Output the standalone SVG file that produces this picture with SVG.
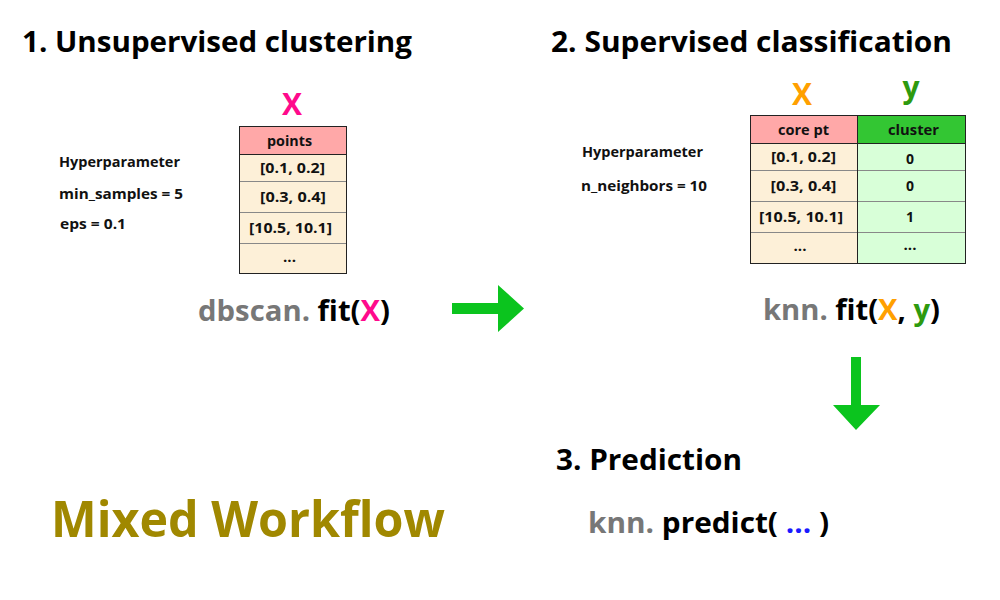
<svg xmlns="http://www.w3.org/2000/svg" width="1000" height="600" viewBox="0 0 1000 600">
<style>
text{font-family:"Open Sans","Noto Sans","Liberation Sans",sans-serif;font-weight:bold;}
.title{font-size:29px;fill:#000;}
.hp{font-size:14px;fill:#111;}
.cell{font-size:14px;fill:#111;text-anchor:middle;}
.code{font-size:29px;}
.gray{fill:#777;}
.blk{fill:#000;}
.grid{stroke:#222;stroke-width:1;}
.sep{stroke:#888;stroke-width:1;}
.arrow{fill:#0bc41e;}
</style>
<rect width="1000" height="600" fill="#fff"/>

<g id="title1"><text class="title" x="22" y="52" textLength="390" lengthAdjust="spacingAndGlyphs">1. Unsupervised clustering</text></g>
<g id="title2"><text class="title" x="551" y="52" textLength="401" lengthAdjust="spacingAndGlyphs">2. Supervised classification</text></g>
<g id="title3"><text class="title" x="556" y="470" textLength="186" lengthAdjust="spacingAndGlyphs">3. Prediction</text></g>
<g id="mixed"><text x="51" y="537" style="font-size:51px;fill:#a08800" textLength="394" lengthAdjust="spacingAndGlyphs">Mixed Workflow</text></g>

<g id="hyper1">
<text class="hp" x="59" y="167" textLength="121" lengthAdjust="spacingAndGlyphs">Hyperparameter</text>
<text class="hp" x="59" y="199" textLength="124" lengthAdjust="spacingAndGlyphs">min_samples = 5</text>
<text class="hp" x="60" y="229" textLength="66" lengthAdjust="spacingAndGlyphs">eps = 0.1</text>
</g>

<g id="table1">
<text x="292" y="115" style="font-size:30px;fill:#ff0a8c" text-anchor="middle">X</text>
<rect x="239.5" y="126.5" width="107" height="28" fill="#ffa8a8"/>
<rect x="239.5" y="154.5" width="107" height="119" fill="#fdf0d8"/>
<line class="sep" x1="239.5" y1="181.5" x2="346.5" y2="181.5"/>
<line class="sep" x1="239.5" y1="212.5" x2="346.5" y2="212.5"/>
<line class="sep" x1="239.5" y1="243.5" x2="346.5" y2="243.5"/>
<line class="grid" x1="239.5" y1="154.5" x2="346.5" y2="154.5"/>
<rect x="239.5" y="126.5" width="107" height="147" fill="none" class="grid"/>
<text class="cell" x="289.5" y="146" textLength="45" lengthAdjust="spacingAndGlyphs">points</text>
<text class="cell" x="292.5" y="173" textLength="65" lengthAdjust="spacingAndGlyphs">[0.1, 0.2]</text>
<text class="cell" x="293" y="202" textLength="66" lengthAdjust="spacingAndGlyphs">[0.3, 0.4]</text>
<text class="cell" x="290.5" y="233" textLength="83" lengthAdjust="spacingAndGlyphs">[10.5, 10.1]</text>
<text class="cell" x="289.5" y="262" textLength="13" lengthAdjust="spacingAndGlyphs">...</text>
</g>

<g id="code1"><text class="code" x="198" y="321" textLength="192" lengthAdjust="spacingAndGlyphs"><tspan class="gray">dbscan.</tspan><tspan class="blk"> fit(</tspan><tspan fill="#ff0a8c">X</tspan><tspan class="blk">)</tspan></text></g>

<g id="hyper2">
<text class="hp" x="582" y="157" textLength="121" lengthAdjust="spacingAndGlyphs">Hyperparameter</text>
<text class="hp" x="581" y="191" textLength="126" lengthAdjust="spacingAndGlyphs">n_neighbors = 10</text>
</g>

<g id="table2">
<text x="802" y="105" style="font-size:30px;fill:#ffa000" text-anchor="middle">X</text>
<text x="911" y="98" style="font-size:30px;fill:#2e9a0f" text-anchor="middle">y</text>
<rect x="750.5" y="115.5" width="107" height="28" fill="#ffa8a8"/>
<rect x="857.5" y="115.5" width="108" height="28" fill="#33c633"/>
<rect x="750.5" y="143.5" width="107" height="120" fill="#fdf0d8"/>
<rect x="857.5" y="143.5" width="108" height="120" fill="#d8ffd8"/>
<line class="sep" x1="750.5" y1="170.5" x2="965.5" y2="170.5"/>
<line class="sep" x1="750.5" y1="201.5" x2="965.5" y2="201.5"/>
<line class="sep" x1="750.5" y1="232.5" x2="965.5" y2="232.5"/>
<line class="grid" x1="750.5" y1="143.5" x2="965.5" y2="143.5"/>
<line class="grid" x1="857.5" y1="115.5" x2="857.5" y2="263.5"/>
<rect x="750.5" y="115.5" width="215" height="148" fill="none" class="grid"/>
<text class="cell" x="803.5" y="135" textLength="51" lengthAdjust="spacingAndGlyphs">core pt</text>
<text class="cell" x="913.5" y="135" textLength="51" lengthAdjust="spacingAndGlyphs">cluster</text>
<text class="cell" x="803.5" y="162" textLength="65" lengthAdjust="spacingAndGlyphs">[0.1, 0.2]</text>
<text class="cell" x="803.5" y="191" textLength="66" lengthAdjust="spacingAndGlyphs">[0.3, 0.4]</text>
<text class="cell" x="801" y="222" textLength="84" lengthAdjust="spacingAndGlyphs">[10.5, 10.1]</text>
<text class="cell" x="800" y="251" textLength="13" lengthAdjust="spacingAndGlyphs">...</text>
<text class="cell" x="910" y="164">0</text>
<text class="cell" x="910" y="191">0</text>
<text class="cell" x="910" y="222">1</text>
<text class="cell" x="910" y="250" textLength="13" lengthAdjust="spacingAndGlyphs">...</text>
</g>

<g id="code2"><text class="code" x="763" y="320" textLength="177" lengthAdjust="spacingAndGlyphs"><tspan class="gray">knn.</tspan><tspan class="blk"> fit(</tspan><tspan fill="#ffa000">X</tspan><tspan class="blk">, </tspan><tspan fill="#2e9a0f">y</tspan><tspan class="blk">)</tspan></text></g>

<g id="code3"><text class="code" x="588" y="533" textLength="241" lengthAdjust="spacingAndGlyphs"><tspan class="gray">knn.</tspan><tspan class="blk"> predict( </tspan><tspan fill="#1a1aff">...</tspan><tspan class="blk"> )</tspan></text></g>

<g id="connectors">
<polygon class="arrow" points="452,303 498,303 498,285 524,308.5 498,332 498,314 452,314"/>
<polygon class="arrow" points="851,357 861,357 861,405 880,405 856,430 833,405 851,405"/>
</g>
</svg>
